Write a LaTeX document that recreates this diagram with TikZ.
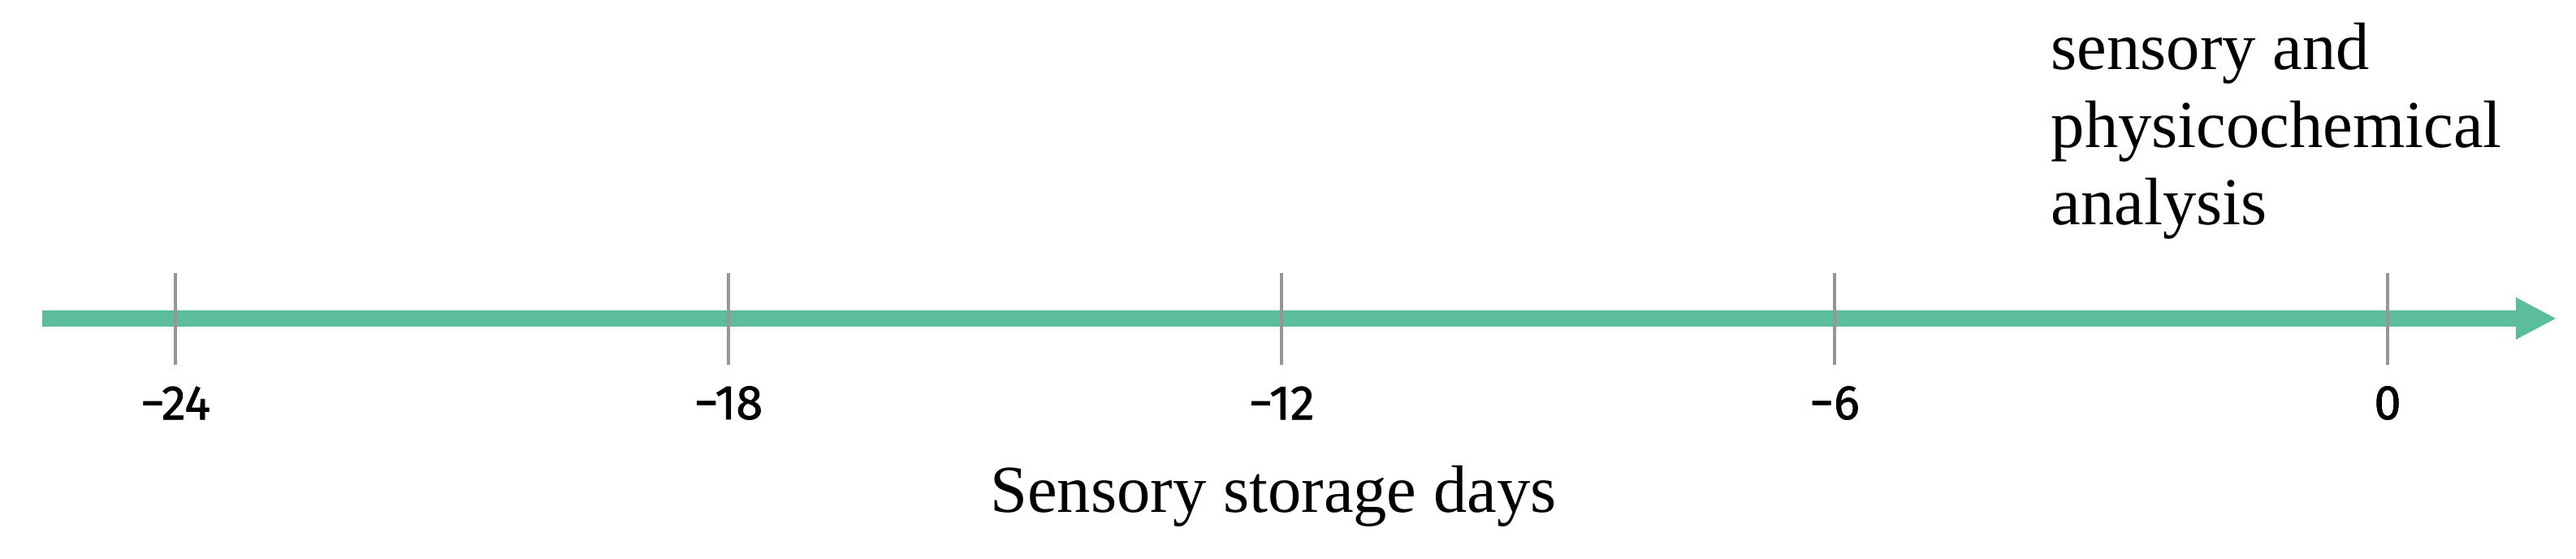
\documentclass[tikz,border=0pt]{standalone}
\usepackage{fontspec}
\setmainfont{Liberation Serif}
\newfontfamily\ticklabelfont[FakeBold=1.2]{Fira Sans}
\usetikzlibrary{arrows.meta}
\definecolor{axisgreen}{RGB}{91,189,158}
\definecolor{tickgray}{RGB}{150,150,150}
\tikzset{
  tickmark/.style={draw=tickgray,line width=1.4pt},
  daylabel/.style={font=\ticklabelfont\fontsize{17}{20}\selectfont,inner sep=0pt,anchor=center},
  caption/.style={font=\fontsize{23.5}{27.3}\selectfont,inner sep=0pt}
}

\begin{document}
\begin{tikzpicture}
	   \useasboundingbox (0,0) rectangle (31.72,6.88);
	   \coordinate (start) at (0.52,2.96);
	   \coordinate (end) at (31.48,2.96);
	   \coordinate (t24) at (2.16,2.96);
	   \coordinate (t18) at (8.97,2.96);
	   \coordinate (t12) at (15.78,2.96);
	   \coordinate (t6) at (22.59,2.96);
	   \coordinate (t0) at (29.40,2.96);
	   \draw [axisgreen,line width=5.6pt,-{Triangle[length=0.5cm,width=0.48cm]}] (start) -- (end);
	   \draw [tickmark] ([yshift=-0.57cm]t24) -- ([yshift=0.56cm]t24);
	   \draw [tickmark] ([yshift=-0.57cm]t18) -- ([yshift=0.56cm]t18);
	   \draw [tickmark] ([yshift=-0.57cm]t12) -- ([yshift=0.56cm]t12);
	   \draw [tickmark] ([yshift=-0.57cm]t6) -- ([yshift=0.56cm]t6);
	   \draw [tickmark] ([yshift=-0.57cm]t0) -- ([yshift=0.56cm]t0);
	   \node [daylabel] (l24) at ([yshift=-1.04cm]t24) {−24};
	   \node [daylabel] (l18) at ([yshift=-1.04cm]t18) {−18};
	   \node [daylabel] (l12) at ([yshift=-1.04cm]t12) {−12};
	   \node [daylabel] (l6) at ([yshift=-1.04cm]t6) {−6};
	   \node [daylabel] (l0) at ([yshift=-1.04cm]t0) {0};
	   \node [caption,align=left,anchor=base west] (analysis) at (25.25,4.11) {sensory and\\physicochemical\\analysis};
	   \node [caption,anchor=base] (axistitle) at (15.68,0.57) {Sensory storage days};
\end{tikzpicture}
\end{document}
